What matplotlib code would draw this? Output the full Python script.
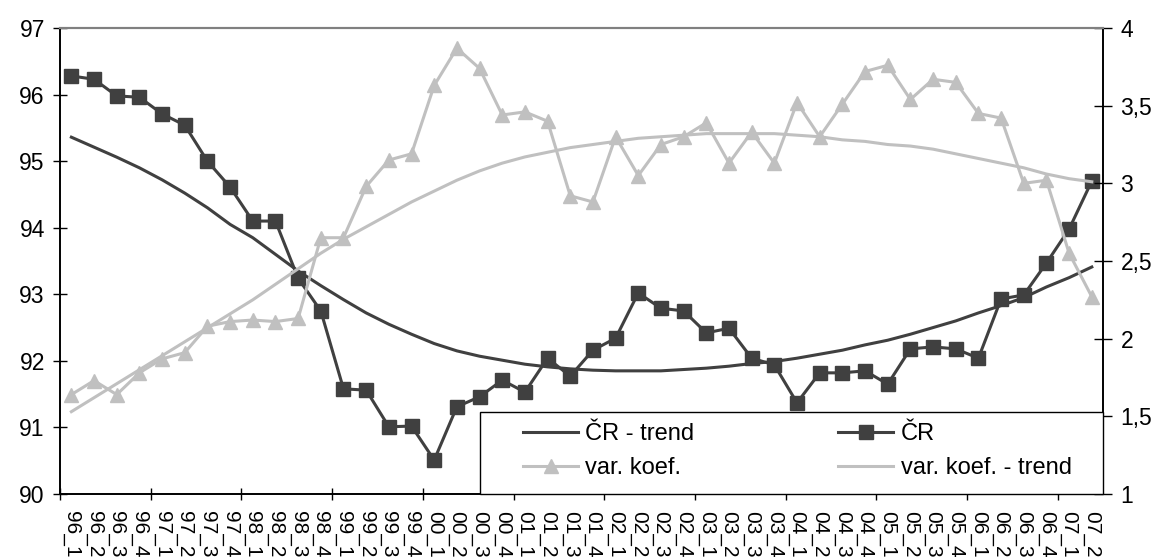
import matplotlib
matplotlib.use('Agg')
import matplotlib.pyplot as plt
from matplotlib.ticker import FixedLocator, FuncFormatter
from matplotlib.patches import Rectangle

plt.rcParams['font.family'] = ['Liberation Sans', 'DejaVu Sans']

# čtvrtletí
quarters = ['96_1', '96_2', '96_3', '96_4', '97_1', '97_2', '97_3', '97_4',
            '98_1', '98_2', '98_3', '98_4', '99_1', '99_2', '99_3', '99_4',
            '00_1', '00_2', '00_3', '00_4', '01_1', '01_2', '01_3', '01_4',
            '02_1', '02_2', '02_3', '02_4', '03_1', '03_2', '03_3', '03_4',
            '04_1', '04_2', '04_3', '04_4', '05_1', '05_2', '05_3', '05_4',
            '06_1', '06_2', '06_3', '06_4', '07_1', '07_2']

# ČR (levá osa)
cr = [96.28, 96.23, 95.98, 95.96, 95.71, 95.54, 95.00, 94.61,
      94.10, 94.10, 93.24, 92.75, 91.58, 91.56, 91.01, 91.02,
      90.51, 91.31, 91.46, 91.71, 91.53, 92.04, 91.77, 92.16,
      92.34, 93.02, 92.79, 92.75, 92.42, 92.49, 92.04, 91.94,
      91.37, 91.82, 91.82, 91.85, 91.65, 92.18, 92.21, 92.18,
      92.04, 92.93, 92.99, 93.47, 93.98, 94.70]

cr_trend = [95.36, 95.21, 95.06, 94.90, 94.72, 94.52, 94.30, 94.05,
            93.85, 93.60, 93.35, 93.13, 92.92, 92.72, 92.55, 92.40,
            92.26, 92.15, 92.07, 92.01, 91.95, 91.91, 91.88, 91.86,
            91.85, 91.85, 91.85, 91.87, 91.89, 91.92, 91.96, 91.99,
            92.04, 92.10, 92.16, 92.24, 92.31, 92.40, 92.50, 92.60,
            92.72, 92.83, 92.95, 93.11, 93.25, 93.41]

# variační koeficient (pravá osa)
var_koef = [1.64, 1.73, 1.64, 1.78, 1.87, 1.91, 2.08, 2.11,
            2.12, 2.11, 2.13, 2.65, 2.65, 2.98, 3.15, 3.19,
            3.63, 3.87, 3.74, 3.44, 3.46, 3.40, 2.92, 2.88,
            3.30, 3.05, 3.25, 3.30, 3.39, 3.13, 3.33, 3.13,
            3.52, 3.30, 3.51, 3.72, 3.76, 3.54, 3.67, 3.65,
            3.45, 3.42, 3.00, 3.02, 2.55, 2.27]

var_trend = [1.53, 1.62, 1.71, 1.80, 1.89, 1.98, 2.07, 2.16,
             2.25, 2.35, 2.45, 2.55, 2.64, 2.72, 2.80, 2.88,
             2.95, 3.02, 3.08, 3.13, 3.17, 3.20, 3.23, 3.25,
             3.27, 3.29, 3.30, 3.31, 3.32, 3.32, 3.32, 3.32,
             3.31, 3.30, 3.28, 3.27, 3.25, 3.24, 3.22, 3.19,
             3.16, 3.13, 3.10, 3.06, 3.03, 3.01]

dark = '#404040'
light = '#c0c0c0'
x = list(range(len(quarters)))

fig = plt.figure(figsize=(11.59, 5.58), dpi=100)
ax = fig.add_axes([0.0518, 0.1147, 0.9,  0.8351])
ax2 = ax.twinx()

l1, = ax.plot(x, cr_trend, color=dark, lw=2.2)
l2, = ax.plot(x, cr, color=dark, lw=2.2, marker='s', markersize=10)
l3, = ax2.plot(x, var_koef, color=light, lw=2.2, marker='^', markersize=10)
l4, = ax2.plot(x, var_trend, color=light, lw=2.2)

ax.set_xlim(-0.5, len(quarters) - 0.5)
ax.set_ylim(90, 97)
ax2.set_ylim(1, 4)
ax.set_yticks(range(90, 98))
ax2.set_yticks([1, 1.5, 2, 2.5, 3, 3.5, 4])
ax2.yaxis.set_major_formatter(FuncFormatter(lambda v, p: ('%g' % v).replace('.', ',')))

# hranice kategorií jako hlavní značky, popisky na vedlejších
ax.xaxis.set_major_locator(FixedLocator([i - 0.5 for i in range(0, len(quarters) + 1, 4)]))
ax.set_xticklabels([])
ax.xaxis.set_minor_locator(FixedLocator(x))
ax.set_xticklabels(quarters, minor=True, rotation=-90, fontsize=15)
ax.tick_params(axis='x', which='minor', length=0, pad=12)
ax.tick_params(axis='x', which='major', direction='inout', length=9, width=1)
ax.tick_params(axis='y', direction='inout', length=10, width=1, labelsize=16.5, pad=6)
ax2.tick_params(axis='y', direction='inout', length=13, width=1, labelsize=16.5, pad=6)

for a in (ax, ax2):
    a.spines['top'].set_color('#808080')
    a.spines['top'].set_linewidth(1.5)
    a.spines['left'].set_linewidth(1.2)
    a.spines['bottom'].set_linewidth(1.2)
    a.spines['right'].set_linewidth(1.2)

# rámeček legendy
box = Rectangle((0.4027, 0), 0.5973, 0.176, transform=ax2.transAxes,
                facecolor='white', edgecolor='black', lw=1.0, zorder=5, clip_on=False)
ax2.add_patch(box)

leg = ax2.legend([l1, l3, l2, l4],
                 ['ČR - trend', 'var. koef.', 'ČR', 'var. koef. - trend'],
                 ncol=2, loc='center left', bbox_to_anchor=(0.444, 0.0923),
                 frameon=False, borderpad=0, borderaxespad=0, fontsize=17,
                 handlelength=2.33, handletextpad=0.3, labelspacing=0.5,
                 columnspacing=6.1, numpoints=1)
leg.set_zorder(6)

fig.savefig('out.png', dpi=100)
